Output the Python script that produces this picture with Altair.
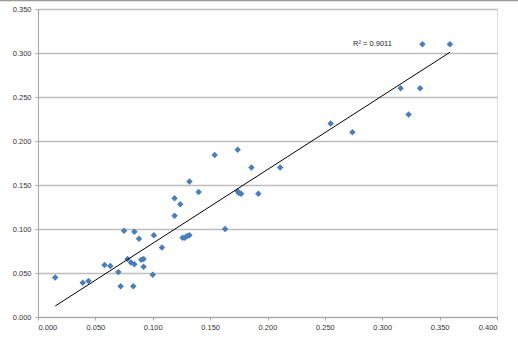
import altair as alt
import pandas as pd

x_vals = [0.015, 0.039, 0.044, 0.058, 0.063, 0.070, 0.072, 0.075, 0.078, 0.081,
          0.083, 0.084, 0.084, 0.088, 0.090, 0.092, 0.092, 0.100, 0.101, 0.108,
          0.119, 0.119, 0.124, 0.126, 0.128, 0.130, 0.132, 0.132, 0.140, 0.154,
          0.163, 0.174, 0.174, 0.175, 0.177, 0.186, 0.192, 0.211, 0.255, 0.274,
          0.316, 0.323, 0.333, 0.335, 0.359]
y_vals = [0.045, 0.039, 0.041, 0.059, 0.058, 0.051, 0.035, 0.098, 0.066, 0.062,
          0.035, 0.097, 0.060, 0.089, 0.065, 0.066, 0.057, 0.048, 0.093, 0.079,
          0.135, 0.115, 0.128, 0.090, 0.090, 0.092, 0.093, 0.154, 0.142, 0.184,
          0.100, 0.190, 0.143, 0.141, 0.140, 0.170, 0.140, 0.170, 0.220, 0.210,
          0.260, 0.230, 0.260, 0.310, 0.310]
trend_x = [0.015, 0.359]
trend_y = [0.0125, 0.3008]
r2_label = ["R² = 0.9011"]

df = pd.DataFrame({"x": x_vals, "y": y_vals})
tdf = pd.DataFrame({"x": trend_x, "y": trend_y})

font = "Liberation Sans"
xs = alt.Scale(domain=[0, 0.4], nice=False, zero=True)
ys = alt.Scale(domain=[0, 0.35], nice=False, zero=True)

points = alt.Chart(df).mark_point(shape="diamond", filled=True, color="#4a7ebb", size=42, opacity=1).encode(
    x=alt.X("x:Q", scale=xs, axis=alt.Axis(
        title=None, values=[0, 0.05, 0.1, 0.15, 0.2, 0.25, 0.3, 0.35, 0.4], format=".3f",
        grid=False, domainColor="#a6a6a6", tickColor="#a6a6a6", tickSize=3,
        labelFont=font, labelFontSize=7.5, labelColor="#333333", labelPadding=3)),
    y=alt.Y("y:Q", scale=ys, axis=alt.Axis(
        title=None, values=[0, 0.05, 0.1, 0.15, 0.2, 0.25, 0.3, 0.35], format=".3f",
        grid=True, gridColor="#bdbdbd", gridWidth=1.3, domainColor="#a6a6a6",
        tickColor="#a6a6a6", tickSize=3,
        labelFont=font, labelFontSize=7.5, labelColor="#333333", labelPadding=4)),
)

trend = alt.Chart(tdf).mark_line(color="#000000", strokeWidth=1).encode(
    x=alt.X("x:Q", scale=xs), y=alt.Y("y:Q", scale=ys)
)

label = alt.Chart(pd.DataFrame({"t": r2_label})).mark_text(
    font=font, fontSize=7.5, color="#222222", align="left", baseline="middle"
).encode(x=alt.value(315), y=alt.value(35), text="t:N")

topline = alt.Chart(pd.DataFrame({"t": r2_label})).mark_rule(color="#9a9a9a", strokeWidth=1.5).encode(
    x=alt.value(-38), x2=alt.value(480), y=alt.value(-8.5)
)

chart = alt.layer(topline, points, trend, label).properties(
    width=459, height=308,
    autosize=alt.AutoSizeParams(type="none"),
    padding={"left": 38, "top": 9, "right": 21, "bottom": 28},
).configure_view(stroke=None).configure(background="white")

chart.save("out.html", embed_options={"renderer": "svg", "actions": False})
